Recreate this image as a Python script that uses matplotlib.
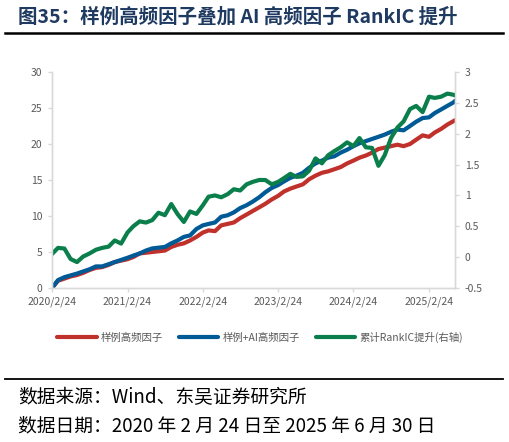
import numpy as np
import pandas as pd
import matplotlib
matplotlib.use('Agg')
import matplotlib.pyplot as plt
import matplotlib.dates as mdates

plt.rcParams['font.family'] = ['Noto Sans CJK SC', 'DejaVu Sans']

# monthly readings, 2020/2/24 .. 2025/6/24, plus the last day 2025/6/30
dates = list(pd.date_range('2020-02-24', periods=65, freq=pd.DateOffset(months=1)))
dates.append(pd.Timestamp('2025-06-30'))

sample_hf = [0, 1.0, 1.3, 1.6, 1.8, 2.1, 2.5, 2.8, 2.9, 3.2,
             3.6, 3.8, 4.0, 4.3, 4.8, 4.9, 5.0, 5.1, 5.2, 5.7,
             6.0, 6.2, 6.6, 7.1, 7.7, 8.0, 7.9, 8.7, 8.9, 9.1,
             9.7, 10.2, 10.7, 11.2, 11.7, 12.3, 12.8, 13.4, 13.8, 14.1,
             14.4, 15.1, 15.6, 16.0, 16.2, 16.5, 16.8, 17.3, 17.7, 18.1,
             18.4, 18.8, 19.3, 19.5, 19.7, 19.9, 19.7, 20.0, 20.6, 21.2,
             21.0, 21.6, 22.1, 22.7, 23.2, 23.3]

sample_ai = [0, 1.1, 1.5, 1.75, 2.0, 2.3, 2.6, 3.0, 3.0, 3.3,
             3.6, 3.9, 4.2, 4.5, 4.8, 5.2, 5.5, 5.6, 5.7, 6.2,
             6.6, 7.1, 7.3, 8.2, 8.7, 8.9, 9.1, 9.9, 10.1, 10.5,
             11.1, 11.5, 12.0, 12.6, 13.3, 13.9, 14.3, 14.8, 15.3, 15.6,
             16.0, 16.7, 17.3, 17.7, 18.1, 18.3, 18.8, 19.2, 19.7, 20.1,
             20.4, 20.7, 21.0, 21.3, 21.7, 22.0, 21.9, 22.5, 23.1, 23.6,
             23.7, 24.3, 24.8, 25.3, 25.8, 26.0]

ic_gain = [0.05, 0.15, 0.14, -0.03, -0.08, 0.01, 0.06, 0.12, 0.15, 0.17,
           0.27, 0.22, 0.40, 0.50, 0.58, 0.56, 0.60, 0.72, 0.68, 0.86,
           0.70, 0.57, 0.74, 0.70, 0.84, 0.98, 1.00, 0.97, 1.02, 1.10,
           1.08, 1.18, 1.22, 1.25, 1.25, 1.18, 1.22, 1.28, 1.35, 1.30,
           1.31, 1.40, 1.60, 1.52, 1.65, 1.72, 1.78, 1.86, 1.80, 1.93,
           1.78, 1.77, 1.48, 1.65, 1.93, 2.10, 2.20, 2.40, 2.45, 2.35,
           2.60, 2.58, 2.60, 2.65, 2.63, 2.62]

labels = ['样例高频因子', '样例+AI高频因子', '累计RankIC提升(右轴)']
colors = ['#C0312B', '#005A96', '#0B7F4B']
xticks = ['2020-02-24', '2021-02-24', '2022-02-24', '2023-02-24', '2024-02-24', '2025-02-24']

grey = '#595959'
axc = '#D9D9D9'

fig = plt.figure(figsize=(5.09, 4.42), dpi=100)
ax = fig.add_axes([52 / 509, 1 - 288 / 442, (455 - 52) / 509, (288 - 72) / 442])
ax2 = ax.twinx()

l1, = ax.plot(dates, sample_hf, color=colors[0], lw=3, solid_capstyle='round')
l2, = ax.plot(dates, sample_ai, color=colors[1], lw=3, solid_capstyle='round')
l3, = ax2.plot(dates, ic_gain, color=colors[2], lw=3, solid_capstyle='round')

ax.set_ylim(0, 30)
ax.set_yticks(np.arange(0, 31, 5))
ax2.set_ylim(-0.5, 3)
ax2.set_yticks(np.arange(-0.5, 3.01, 0.5))
ax2.set_yticklabels(['-0.5', '0', '0.5', '1', '1.5', '2', '2.5', '3'])
ax.set_xlim(pd.Timestamp('2020-02-24'), pd.Timestamp('2025-06-30'))
ax.set_xticks([pd.Timestamp(d) for d in xticks])
ax.xaxis.set_major_formatter(mdates.DateFormatter('%Y/%-m/%d'))

for a in (ax, ax2):
    for s in a.spines.values():
        s.set_color(axc)
        s.set_linewidth(1)
    a.spines['top'].set_visible(False)
    a.tick_params(colors=axc, labelcolor=grey, labelsize=7.5, length=3, width=1)
ax.tick_params(axis='x', pad=3)
ax.tick_params(axis='y', pad=4)
ax2.tick_params(axis='y', pad=4)

fig.legend([l1, l2, l3], labels, loc='center', bbox_to_anchor=(260 / 509, 1 - 337 / 442),
           ncol=3, frameon=False, fontsize=7.5, labelcolor=grey, handlelength=3.8,
           handletextpad=0.4, columnspacing=1.5)
for h in fig.legends[0].get_lines():
    h.set_linewidth(3)

fig.text(18 / 509, 1 - 17 / 442, '图35：样例高频因子叠加 AI 高频因子 RankIC 提升',
         fontsize=14, fontweight='bold', color='#1F3A60', va='center', ha='left')
fig.add_artist(plt.Line2D([5 / 509, 503 / 509], [1 - 33 / 442] * 2, color='black', lw=1.8))
fig.add_artist(plt.Line2D([5 / 509, 503 / 509], [1 - 379 / 442] * 2, color='black', lw=1.3))
fig.text(18 / 509, 1 - 398 / 442, '数据来源：Wind、东吴证券研究所',
         fontsize=13.5, color='black', va='center', ha='left')
fig.text(18 / 509, 1 - 426 / 442, '数据日期：2020 年 2 月 24 日至 2025 年 6 月 30 日',
         fontsize=13.5, color='black', va='center', ha='left')

fig.savefig('out.png', dpi=100)
